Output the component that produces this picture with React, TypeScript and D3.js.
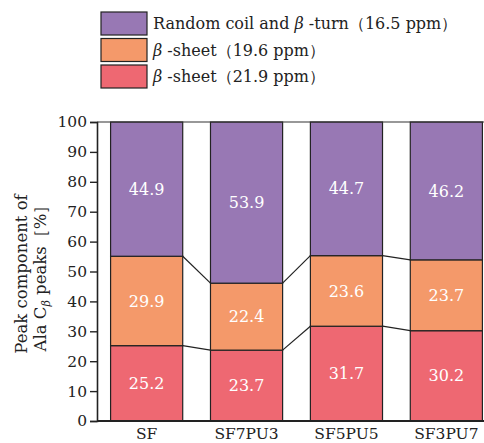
import React, { useEffect, useRef } from "react";
import * as d3 from "d3";

const samples = ["SF", "SF7PU3", "SF5PU5", "SF3PU7"];
const sheet219 = [25.2, 23.7, 31.7, 30.2];
const sheet196 = [29.9, 22.4, 23.6, 23.7];
const coilTurn = [44.9, 53.9, 44.7, 46.2];
const seriesPre = ["", "", "Random coil and "];
const seriesPost = [" -sheet（21.9 ppm）", " -sheet（19.6 ppm）", " -turn（16.5 ppm）"];
const yTicks = [0, 10, 20, 30, 40, 50, 60, 70, 80, 90, 100];

const colors = ["#ee6872", "#f4996a", "#9878b4"];
const font = "'DejaVu Serif', serif";

function App() {
  const ref = useRef<SVGSVGElement>(null);

  useEffect(() => {
    const svg = d3.select(ref.current);
    svg.selectAll("*").remove();

    const left = 97;
    const top = 122;
    const bottom = 421;

    const x = d3.scaleBand().domain(samples).range([left, 496]).paddingInner(0.278).paddingOuter(0.136);
    const y = d3.scaleLinear().domain([0, 100]).range([bottom, top]);

    const rows = samples.map((s, i) => ({
      name: s,
      s0: sheet219[i],
      s1: sheet196[i],
      s2: coilTurn[i],
    }));
    const stack = d3.stack<any>().keys(["s0", "s1", "s2"]);
    const layers = stack(rows);

    // lines joining the stack boundaries of neighbouring bars
    const g = svg.append("g");
    layers.forEach((layer, li) => {
      if (li === layers.length - 1) return;
      for (let i = 0; i < samples.length - 1; i++) {
        const a = layer[i][1];
        const b = layer[i + 1][1];
        g.append("line")
          .attr("x1", x(samples[i])! + x.bandwidth())
          .attr("x2", x(samples[i + 1])!)
          .attr("y1", y(a))
          .attr("y2", y(b))
          .attr("stroke", "#222")
          .attr("stroke-width", 1.2);
      }
    });

    layers.forEach((layer, li) => {
      const lg = svg.append("g");
      lg.selectAll("rect")
        .data(layer)
        .enter()
        .append("rect")
        .attr("x", (d: any) => x(d.data.name)!)
        .attr("y", (d) => y(Math.min(100, d[1])))
        .attr("width", x.bandwidth())
        .attr("height", (d) => y(d[0]) - y(Math.min(100, d[1])))
        .attr("fill", colors[li])
        .attr("stroke", "#222")
        .attr("stroke-width", 1.2);
      lg.selectAll("text")
        .data(layer)
        .enter()
        .append("text")
        .attr("x", (d: any) => x(d.data.name)! + x.bandwidth() / 2)
        .attr("y", (d) => y((d[0] + Math.min(100, d[1])) / 2))
        .attr("dy", "0.35em")
        .attr("text-anchor", "middle")
        .attr("fill", "#fff")
        .attr("font-family", font)
        .attr("font-size", 16)
        .text((d) => (d[1] - d[0]).toFixed(1));
    });

    // top frame line and zero line
    svg.append("line").attr("x1", left).attr("x2", 484).attr("y1", top).attr("y2", top)
      .attr("stroke", "#333").attr("stroke-width", 1.2);
    svg.append("line").attr("x1", left).attr("x2", 484).attr("y1", bottom).attr("y2", bottom)
      .attr("stroke", "#222").attr("stroke-width", 2);

    const yAxis = svg.append("g")
      .attr("transform", `translate(${left},0)`)
      .call(d3.axisLeft(y).tickValues(yTicks).tickSize(7).tickPadding(3));
    yAxis.select(".domain").attr("stroke", "#222").attr("stroke-width", 1.6);
    yAxis.selectAll(".tick line").attr("stroke", "#222").attr("stroke-width", 1.4);
    yAxis.selectAll(".tick text")
      .attr("font-family", font)
      .attr("font-size", 15.5)
      .attr("fill", "#222");

    // x labels
    svg.append("g")
      .selectAll("text")
      .data(samples)
      .enter()
      .append("text")
      .attr("x", (d) => x(d)! + x.bandwidth() / 2)
      .attr("y", 439)
      .attr("text-anchor", "middle")
      .attr("font-family", font)
      .attr("font-size", 15.5)
      .attr("fill", "#222")
      .text((d) => d);

    // y title
    const yt = svg.append("text")
      .attr("transform", `translate(27,274) rotate(-90)`)
      .attr("text-anchor", "middle")
      .attr("font-family", font)
      .attr("font-size", 16.5)
      .attr("fill", "#222");
    yt.append("tspan").attr("x", 0).attr("y", 0).text("Peak component of");
    const l2 = yt.append("tspan").attr("x", 0).attr("y", 19);
    l2.append("tspan").text("Ala C");
    l2.append("tspan").attr("font-size", 11).attr("dy", 4).attr("font-style", "italic").text("β");
    l2.append("tspan").attr("dy", -4).text(" peaks［%］");

    // legend
    const legendOrder = [2, 1, 0];
    legendOrder.forEach((si, k) => {
      const ly = 12 + k * 26.5;
      svg.append("rect")
        .attr("x", 101).attr("y", ly).attr("width", 46).attr("height", 23)
        .attr("fill", colors[si]).attr("stroke", "#222").attr("stroke-width", 1.2);
      const t = svg.append("text")
        .attr("x", 153).attr("y", ly + 11.5).attr("dy", "0.35em")
        .attr("font-family", font)
        .attr("font-size", 16).attr("fill", "#222");
      if (seriesPre[si]) t.append("tspan").text(seriesPre[si]);
      t.append("tspan").attr("font-style", "italic").text("β");
      t.append("tspan").text(seriesPost[si]);
    });
  }, []);

  return (
    <svg ref={ref} width={484} height={443} style={{ position: "absolute", left: 0, top: 0, background: "#fff" }} />
  );
}

export default App;
